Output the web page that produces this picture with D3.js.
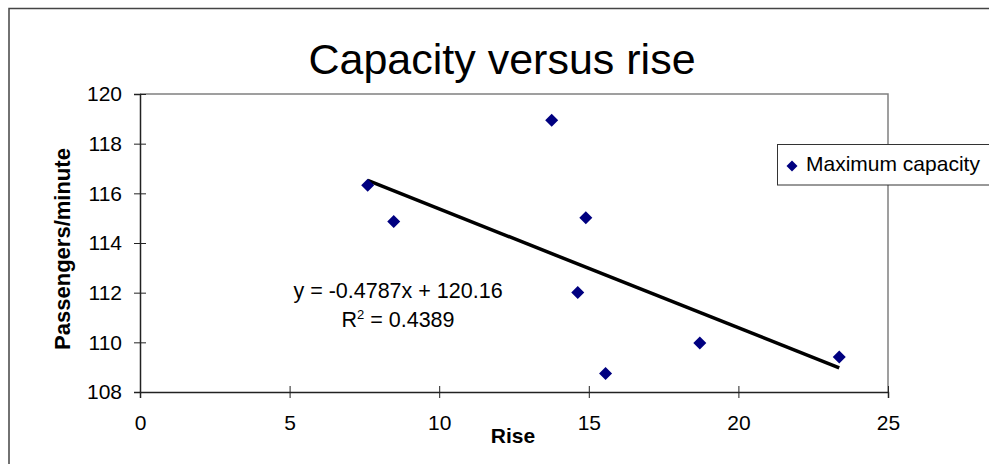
<!DOCTYPE html>
<html>
<head>
<meta charset="utf-8">
<script src="https://cdn.jsdelivr.net/npm/d3@7"></script>
<style>
  html, body { margin: 0; padding: 0; background: #fff; }
  svg { display: block; font-family: "Liberation Sans", Arial, sans-serif; }
</style>
</head>
<body>
<svg id="chart" width="989" height="464"></svg>
<script>
// ---- data ----
const title = "Capacity versus rise";
const seriesName = "Maximum capacity";
const rise = [7.61, 8.48, 13.76, 14.90, 14.63, 15.56, 18.71, 23.37];
const capacity = [116.33, 114.87, 118.94, 115.02, 112.01, 108.75, 109.97, 109.41];
const xTicks = [0, 5, 10, 15, 20, 25];
const yTicks = [108, 110, 112, 114, 116, 118, 120];
const trendSlope = -0.4787;
const trendIntercept = 120.16;
const equationText = "y = -0.4787x + 120.16";
const r2Value = "0.4389";
const xLabel = "Rise";
const yLabel = "Passengers/minute";

// ---- layout ----
const svg = d3.select("#chart");
const plot = { left: 140, top: 94, right: 888, bottom: 392 };
const x = d3.scaleLinear().domain([0, 25]).range([plot.left, plot.right]);
const y = d3.scaleLinear().domain([108, 120]).range([plot.bottom, plot.top]);

// outer chart border
svg.append("rect").attr("x", 9).attr("y", 8.5).attr("width", 1000).attr("height", 500)
  .attr("fill", "none").attr("stroke", "#444").attr("stroke-width", 1.5);

// plot area border (top/right grey)
svg.append("path")
  .attr("d", `M${plot.left},${plot.top}H${plot.right}V${plot.bottom}`)
  .attr("fill", "none").attr("stroke", "#808080").attr("stroke-width", 1.5);

// title
svg.append("text").attr("x", 502).attr("y", 74).attr("text-anchor", "middle")
  .attr("font-size", 43).attr("fill", "#000").text(title);

// y axis
const yAxis = svg.append("g").attr("transform", `translate(${plot.left},0)`)
  .call(d3.axisLeft(y).tickValues(yTicks).tickSize(6).tickPadding(12).tickFormat(d3.format("d")));
yAxis.select(".domain").attr("stroke", "#222").attr("stroke-width", 1.5);
yAxis.selectAll(".tick line").attr("x1", -6).attr("x2", 6).attr("stroke", "#222");
yAxis.selectAll(".tick text").attr("font-size", 21).attr("font-family", "Liberation Sans, Arial, sans-serif")
  .attr("fill", "#000").attr("x", -18).attr("dy", "0.33em");

// x axis
const xAxis = svg.append("g").attr("transform", `translate(0,${plot.bottom})`)
  .call(d3.axisBottom(x).tickValues(xTicks).tickSize(6).tickFormat(d3.format("d")));
xAxis.select(".domain").attr("stroke", "#222").attr("stroke-width", 1.5);
xAxis.selectAll(".tick line").attr("y1", -6).attr("y2", 6).attr("stroke", "#222");
xAxis.selectAll(".tick text").attr("font-size", 21).attr("font-family", "Liberation Sans, Arial, sans-serif")
  .attr("fill", "#000").attr("y", 38).attr("dy", 0);

// axis titles
svg.append("text").attr("x", 513).attr("y", 443).attr("text-anchor", "middle")
  .attr("font-size", 21).attr("font-weight", "bold").text(xLabel);
svg.append("text").attr("transform", `translate(70,249) rotate(-90)`).attr("text-anchor", "middle")
  .attr("font-size", 22).attr("font-weight", "bold").text(yLabel);

// trendline
const xmin = d3.min(rise), xmax = d3.max(rise);
svg.append("line")
  .attr("x1", x(xmin)).attr("y1", y(trendSlope * xmin + trendIntercept))
  .attr("x2", x(xmax)).attr("y2", y(trendSlope * xmax + trendIntercept))
  .attr("stroke", "#000").attr("stroke-width", 3.5);

// points
const diamond = r => `M0,${-r}L${r},0L0,${r}L${-r},0Z`;
svg.append("g").selectAll("path").data(rise.map((d, i) => [d, capacity[i]])).join("path")
  .attr("d", diamond(6.5))
  .attr("transform", d => `translate(${x(d[0])},${y(d[1])})`)
  .attr("fill", "#000080");

// equation
svg.append("text").attr("x", 398).attr("y", 298).attr("text-anchor", "middle")
  .attr("font-size", 21.5).text(equationText);
const r2 = svg.append("text").attr("x", 398).attr("y", 327).attr("text-anchor", "middle")
  .attr("font-size", 21.5);
r2.append("tspan").text("R");
r2.append("tspan").attr("font-size", 13).attr("dy", -8).text("2");
r2.append("tspan").attr("dy", 8).text(" = " + r2Value);

// legend
svg.append("rect").attr("x", 777.5).attr("y", 144.5).attr("width", 240).attr("height", 40.5)
  .attr("fill", "#fff").attr("stroke", "#333").attr("stroke-width", 1);
svg.append("path").attr("d", diamond(5.5)).attr("transform", "translate(792,166)").attr("fill", "#000080");
svg.append("text").attr("x", 806).attr("y", 171).attr("font-size", 21)
  .text(seriesName);
</script>
</body>
</html>
